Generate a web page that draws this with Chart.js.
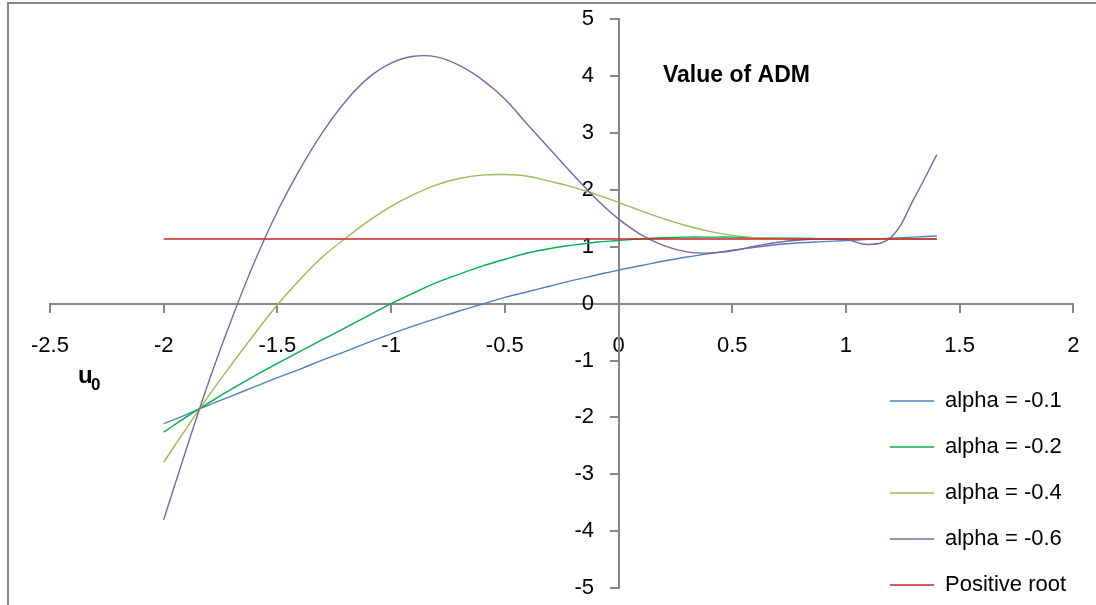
<!DOCTYPE html>
<html>
<head>
<meta charset="utf-8">
<script src="https://cdn.jsdelivr.net/npm/chart.js@4.4.0/dist/chart.umd.min.js"></script>
<style>
    html, body { margin: 0; padding: 0; background: #fff; }
    #wrap { width: 1096px; height: 605px; position: relative; }
</style>
</head>
<body>
<div id="wrap"><canvas id="admChart"></canvas></div>
<script>
// u0 values shared by the four alpha curves
const uValues = [-2.0, -1.9, -1.8, -1.7, -1.6, -1.5, -1.4, -1.3, -1.2, -1.1, -1.0,
                 -0.9, -0.8, -0.7, -0.6, -0.5, -0.4, -0.3, -0.2, -0.1, 0.0,
                 0.1, 0.2, 0.3, 0.4, 0.5, 0.6, 0.7, 0.8, 0.9, 1.0, 1.1, 1.2, 1.3, 1.4];

const alpha01 = [-2.11, -1.95, -1.78, -1.62, -1.46, -1.30, -1.15, -0.99, -0.84, -0.68, -0.53,
                 -0.39, -0.26, -0.13, -0.01, 0.11, 0.21, 0.31, 0.41, 0.50, 0.59,
                 0.67, 0.75, 0.82, 0.88, 0.94, 0.99, 1.04, 1.07, 1.09, 1.11, 1.13, 1.15, 1.17, 1.19];
const alpha02 = [-2.26, -1.99, -1.74, -1.50, -1.27, -1.05, -0.84, -0.63, -0.42, -0.21, 0.00,
                 0.19, 0.37, 0.52, 0.66, 0.78, 0.89, 0.97, 1.03, 1.08, 1.11,
                 1.14, 1.16, 1.17, 1.17, 1.17, 1.16, 1.15, 1.15, 1.14, 1.14, 1.14, 1.14, 1.14, 1.14];
const alpha04 = [-2.79, -2.19, -1.61, -1.06, -0.53, -0.02, 0.43, 0.83, 1.15, 1.45, 1.71,
                 1.92, 2.09, 2.20, 2.26, 2.27, 2.24, 2.15, 2.05, 1.92, 1.78,
                 1.63, 1.49, 1.37, 1.27, 1.20, 1.16, 1.15, 1.14, 1.14, 1.14, 1.14, 1.14, 1.14, 1.14];
const alpha06 = [-3.80, -2.55, -1.35, -0.26, 0.74, 1.62, 2.37, 3.02, 3.56, 3.97, 4.23,
                 4.35, 4.34, 4.19, 3.94, 3.60, 3.15, 2.71, 2.27, 1.85, 1.49,
                 1.21, 1.02, 0.91, 0.89, 0.93, 1.01, 1.08, 1.12, 1.14, 1.13, 1.04, 1.17, 1.85, 2.62];

// positive root, drawn as a flat line across the same u0 range
const rootU = [-2.0, 1.4];
const rootValues = [1.137, 1.137];

const seriesLabels = ['alpha = -0.1', 'alpha = -0.2', 'alpha = -0.4', 'alpha = -0.6', 'Positive root'];

const axisGray = '#868686';
const fontFamily = "'Liberation Sans', Arial, sans-serif";
const labelFont = { family: fontFamily, size: 22 };
// taller line box pushes the x labels down without widening the side padding
const xTickFont = { family: fontFamily, size: 22, lineHeight: 2 };

function toPoints(xs, ys) {
    return xs.map((x, i) => ({ x: x, y: ys[i] }));
}

function lineSet(label, xs, ys, color, order) {
    return {
        label: label,
        data: toPoints(xs, ys),
        borderColor: color,
        backgroundColor: color,
        borderWidth: 1.4,
        pointRadius: 0,
        tension: 0.4,
        fill: false,
        order: order
    };
}

// frame line, title and u0 label
const chartNotes = {
    id: 'chartNotes',
    beforeDraw(chart) {
        const ctx = chart.ctx;
        ctx.save();
        ctx.strokeStyle = axisGray;
        ctx.lineWidth = 2;
        ctx.beginPath();
        ctx.moveTo(8, chart.height + 2);
        ctx.lineTo(8, 3);
        ctx.lineTo(chart.width + 2, 3);
        ctx.stroke();
        ctx.restore();
    },
    afterDraw(chart) {
        const ctx = chart.ctx;
        ctx.save();
        ctx.fillStyle = '#000';
        ctx.textAlign = 'left';
        ctx.textBaseline = 'alphabetic';
        ctx.font = 'bold 23px ' + fontFamily;
        ctx.fillText('Value of ADM', 663, 82);
        ctx.font = 'bold 24px ' + fontFamily;
        ctx.fillText('u', 78, 383);
        ctx.font = 'bold 17px ' + fontFamily;
        ctx.fillText('0', 91, 390);
        ctx.restore();
    }
};

// put the legend in the lower right corner, over the plot
const legendCorner = {
    id: 'legendCorner',
    afterLayout(chart) {
        const lg = chart.legend;
        if (!lg) return;
        lg.left = 866;
        lg.top = 366;
        lg.right = chart.width + 200;
        lg.bottom = chart.height + 200;
    }
};

new Chart(document.getElementById('admChart'), {
    type: 'line',
    data: {
        datasets: [
            lineSet(seriesLabels[0], uValues, alpha01, '#4F81BD', 4),
            lineSet(seriesLabels[1], uValues, alpha02, '#00B050', 3),
            lineSet(seriesLabels[2], uValues, alpha04, '#9BBB59', 2),
            lineSet(seriesLabels[3], uValues, alpha06, '#8064A2', 1),
            lineSet(seriesLabels[4], rootU, rootValues, '#CC2229', 0)
        ]
    },
    options: {
        responsive: true,
        maintainAspectRatio: false,
        animation: false,
        layout: { padding: { left: 50, right: 22.7, top: 19.3, bottom: 17 } },
        plugins: {
            legend: {
                position: 'chartArea',
                align: 'start',
                reverse: true,
                labels: {
                    usePointStyle: true,
                    pointStyle: 'line',
                    pointStyleWidth: 44,
                    padding: 24,
                    color: '#000',
                    font: labelFont
                }
            },
            tooltip: { enabled: false }
        },
        scales: {
            x: {
                type: 'linear',
                min: -2.5,
                max: 2,
                position: { y: 0 },
                ticks: {
                    stepSize: 0.5, color: '#000', font: xTickFont, maxRotation: 0, padding: 12,
                    callback: v => String(v)
                },
                grid: { drawOnChartArea: false, tickLength: 8, color: axisGray, lineWidth: 2 },
                border: { color: axisGray, width: 2 }
            },
            y: {
                type: 'linear',
                min: -5,
                max: 5,
                position: { x: 0 },
                ticks: {
                    stepSize: 1, color: '#000', font: labelFont,
                    // labels sit right against a centred axis, so pad them on the right
                    callback: v => String(v) + '    '
                },
                grid: { drawOnChartArea: false, tickLength: 8, color: axisGray, lineWidth: 2 },
                border: { color: axisGray, width: 2 }
            }
        }
    },
    plugins: [chartNotes, legendCorner]
});
</script>
</body>
</html>
